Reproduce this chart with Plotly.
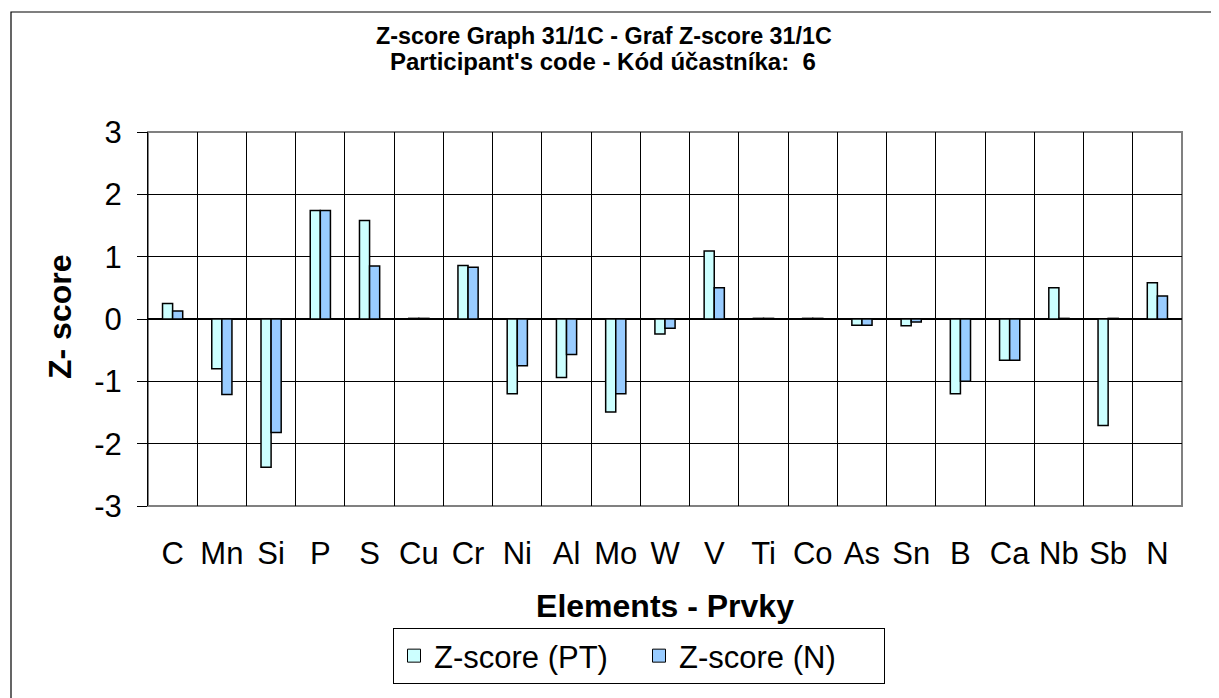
import plotly.graph_objects as go

elements = ["C", "Mn", "Si", "P", "S", "Cu", "Cr", "Ni", "Al", "Mo", "W", "V",
            "Ti", "Co", "As", "Sn", "B", "Ca", "Nb", "Sb", "N"]
z_pt = [0.25, -0.80, -2.38, 1.74, 1.58, 0.01, 0.86, -1.20, -0.94, -1.49, -0.24, 1.09,
        0.01, 0.01, -0.10, -0.11, -1.20, -0.66, 0.50, -1.71, 0.58]
z_n = [0.13, -1.21, -1.82, 1.74, 0.85, 0.01, 0.83, -0.75, -0.57, -1.20, -0.15, 0.50,
       0.01, 0.01, -0.10, -0.05, -1.00, -0.66, 0.01, 0.01, 0.37]
y_ticks = [-3, -2, -1, 0, 1, 2, 3]
y_labels = ["-3", "-2", "-1", "0", "1", "2", "3"]
series_names = ["Z-score (PT)", "Z-score (N)"]
series_colors = ["#CCFFFF", "#99CCFF"]

FONT = "Arial, Liberation Sans, Helvetica, sans-serif"

fig = go.Figure()
for vals, name, col in zip([z_pt, z_n], series_names, series_colors):
    fig.add_trace(go.Bar(x=elements, y=vals, name=name, showlegend=False,
                         marker=dict(color=col, line=dict(color="#000000", width=1.5))))
# legend entries with square symbols
for name, col in zip(series_names, series_colors):
    fig.add_trace(go.Scatter(x=[None], y=[None], mode="markers", name=name,
                             marker=dict(symbol="square", size=13, color=col,
                                         line=dict(color="#000000", width=1))))

# page offset (browser body margin)
OFF = 8
PAGE_W, PAGE_H = 1219, 698
W, H = PAGE_W - OFF, PAGE_H - OFF
L, T = 148 - OFF, 132 - OFF
R, B = PAGE_W - 1182, PAGE_H - 506
pw, ph = W - L - R, H - T - B

def px_x(x):
    return (x - OFF - L) / pw

def px_y(y):
    return (H - B - (y - OFF)) / ph

n_cat = len(elements)
boundaries = [i - 0.5 for i in range(n_cat + 1)]

fig.update_layout(
    width=W, height=H,
    margin=dict(l=L, r=R, t=T, b=B),
    paper_bgcolor="white", plot_bgcolor="white",
    font=dict(family=FONT, color="#000000"),
    barmode="group", bargap=0.59, bargroupgap=0,
    xaxis=dict(
        type="category", tickson="boundaries", showgrid=True, gridcolor="#000000", gridwidth=1,
        ticks="", tickfont=dict(size=31), tickangle=0, ticklabelstandoff=26, automargin=False,
        title=dict(text="<b>Elements - Prvky</b>", font=dict(size=32), standoff=24),
        showline=False, zeroline=False, range=[-0.5, n_cat - 0.5],
    ),
    xaxis2=dict(
        overlaying="x", anchor="free", position=0.5, side="bottom",
        range=[-0.5, n_cat - 0.5], tickvals=boundaries, ticks="outside", ticklen=8,
        tickcolor="#000000", tickwidth=1, showticklabels=False, showgrid=False,
        zeroline=False, showline=False, automargin=False,
    ),
    yaxis=dict(
        range=[-3, 3], tickvals=y_ticks, ticktext=y_labels, showgrid=True,
        gridcolor="#000000", gridwidth=1,
        ticks="outside", ticklen=10, tickcolor="#000000", tickwidth=1,
        tickfont=dict(size=31), ticklabelstandoff=9, automargin=False,
        zeroline=True, zerolinecolor="#000000", zerolinewidth=1.5,
        showline=True, linecolor="#000000", linewidth=1,
    ),
    legend=dict(
        orientation="h", x=px_x(393), xanchor="left", y=px_y(628), yanchor="top",
        bordercolor="#000000", borderwidth=1, font=dict(size=31), bgcolor="white",
        itemwidth=30, entrywidth=200, entrywidthmode="pixels",
    ),
    annotations=[
        dict(text="<b>Z-score Graph 31/1C - Graf Z-score 31/1C</b>", xref="paper", yref="paper",
             x=px_x(604), y=px_y(36), xanchor="center", yanchor="middle", showarrow=False,
             font=dict(size=23.3, family=FONT, color="#000000")),
        dict(text="<b>Participant's code - Kód účastníka:\u00a0 6</b>", xref="paper", yref="paper",
             x=px_x(603), y=px_y(62), xanchor="center", yanchor="middle", showarrow=False,
             font=dict(size=24, family=FONT, color="#000000")),
        dict(text="<b>Z- score</b>", xref="paper", yref="paper", textangle=-90,
             x=px_x(60), y=px_y(317), xanchor="center", yanchor="middle", showarrow=False,
             font=dict(size=32, family=FONT, color="#000000")),
    ],
    shapes=[
        dict(type="rect", xref="paper", yref="paper", x0=0, x1=1, y0=0, y1=1,
             line=dict(color="#808080", width=2), layer="between"),
        dict(type="rect", xref="paper", yref="paper", x0=px_x(11), x1=px_x(1218),
             y0=px_y(710), y1=px_y(12), line=dict(color="#000000", width=1.2)),
    ],
)

fig.write_html("out.html")
